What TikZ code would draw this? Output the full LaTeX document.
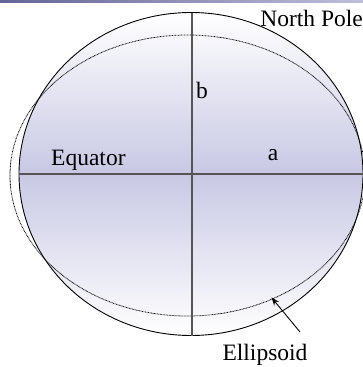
\documentclass[tikz,border=0pt]{standalone}
\usepackage{fontspec}
\setmainfont{Liberation Serif}
\usetikzlibrary{arrows.meta}
\definecolor{lav}{RGB}{200,200,228}
\definecolor{barl}{RGB}{100,100,150}
\definecolor{barr}{RGB}{190,190,220}
\definecolor{axis}{RGB}{85,85,85}
\tikzset{
  lbl/.style={font=\fontsize{23.5}{26}\selectfont, inner sep=0pt},
  axisline/.style={draw=axis, line width=1.1pt},
}
\begin{document}
\begin{tikzpicture}[x=1pt,y=-1pt]
\useasboundingbox (0,0) rectangle (363,367);
\clip (0,0) rectangle (363,367);
% top bar
\shade[left color=barl, right color=barr] (0,0) rectangle (363,2);
% filled solid ellipse
\shade[top color=white, bottom color=white, middle color=lav] (191,174) ellipse [x radius=172, y radius=161.5];
\draw[line width=0.9pt] (191,174) ellipse [x radius=172, y radius=161.5];
% dotted ellipse
\draw[dash pattern=on 0.8pt off 0.7pt, line width=0.8pt] (187.5,175.5) ellipse [x radius=177.5, y radius=140.5];
% axes
\coordinate (np) at (192,12.5);
\coordinate (sp) at (192,335.5);
\coordinate (w) at (19,174);
\coordinate (e) at (363,174);
\draw[axisline] (np) -- (sp);
\draw[axisline] (w) -- (e);
% labels
\node[lbl, anchor=base east] (northpole) at (363,26) {North Pole};
\node[lbl, anchor=base west] (b) at (196,98) {b};
\node[lbl, anchor=base west] (equator) at (51,165) {Equator};
\node[lbl, anchor=base] (a) at (273,160) {a};
\node[lbl, anchor=base] (ellipsoid) at (265,360) {Ellipsoid};
% arrow
\coordinate (tail) at (300,332);
\coordinate (head) at (271.5,297.5);
\draw[line width=0.9pt, -{Stealth[length=8pt,width=6pt]}] (tail) -- (head);
\end{tikzpicture}
\end{document}
